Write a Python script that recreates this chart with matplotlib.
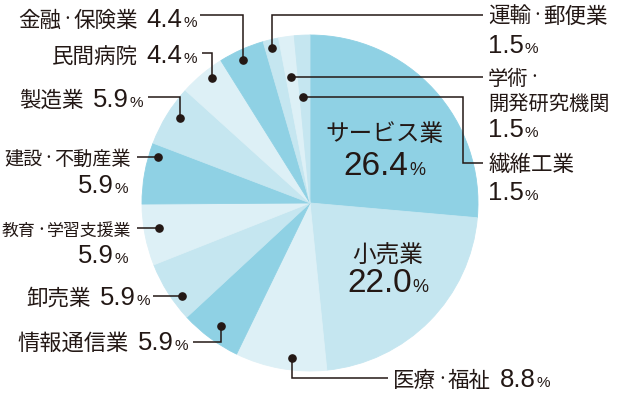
import matplotlib
matplotlib.use('Agg')
import matplotlib.pyplot as plt
import numpy as np

# ---- data ----
categories = ['サービス業', '小売業', '医療・福祉', '情報通信業', '卸売業',
              '教育・学習支援業', '建設・不動産業', '製造業', '民間病院',
              '金融・保険業', '運輸・郵便業', '学術・開発研究機関', '繊維工業']
shares = [26.4, 22.0, 8.8, 5.9, 5.9, 5.9, 5.9, 5.9, 4.4, 4.4, 1.5, 1.5, 1.5]

# ---- style ----
DARK, MED, LIGHT = '#8fd1e4', '#c5e6f0', '#ddf0f6'
colors = [DARK, MED, LIGHT, DARK, MED, LIGHT, DARK, MED, LIGHT, DARK, MED, LIGHT, MED]
TXT = '#231815'
JP = ['Noto Sans CJK JP', 'DejaVu Sans']
NUM = ['Liberation Sans', 'DejaVu Sans']

W, H = 617, 395
CX, CY, R = 310, 203, 168
DOT_SIZE = 8.5     # font size of the "・" separator

fig = plt.figure(figsize=(W / 100, H / 100), dpi=100)
ax = fig.add_axes([0, 0, 1, 1])
wedges, _ = ax.pie(shares, colors=colors, startangle=90, counterclock=False,
                   center=(CX, H - CY), radius=R,
                   wedgeprops=dict(linewidth=0.6))
for w, c in zip(wedges, colors):
    w.set_edgecolor(c)
ax.set_xlim(0, W)
ax.set_ylim(0, H)
ax.set_aspect('auto')
ax.axis('off')

renderer = fig.canvas.get_renderer()


def rich(x, baseline, parts, ha):
    """parts: list of (string, size, family, gap_before_px, raise_px)"""
    y = H - baseline
    texts, widths = [], []
    for s, size, fam, gap, dy in parts:
        t = ax.text(0, y + dy, s, fontsize=size, family=fam, color=TXT,
                    ha='left', va='baseline')
        texts.append(t)
        widths.append(t.get_window_extent(renderer).width + gap)
    total = sum(widths)
    if ha == 'left':
        x0 = x
    elif ha == 'right':
        x0 = x - total
    else:
        x0 = x - total / 2
    for (s, size, fam, gap, dy), t, w in zip(parts, texts, widths):
        x0 += gap
        t.set_x(x0)
        x0 += w - gap


def name_parts(nm, size):
    segs = nm.split('・')
    parts = []
    raise_px = 0.38 * (size - DOT_SIZE) * 100 / 72 + 1.5
    for i, sgm in enumerate(segs):
        if i > 0:
            parts.append(('・', DOT_SIZE, JP, 0, raise_px))
        if sgm:
            parts.append((sgm, size, JP, 0, 0))
    return parts


# label layout: name lines, pct inline?, x anchor, ha, baselines, dot (t, r), leader path, inner?, jp size
layout = {
    'サービス業': (['サービス業'], False, 384, 'center', [141, 175], None, None, True, 17),
    '小売業': (['小売業'], False, 388, 'center', [263, 292], None, None, True, 17),
    '医療・福祉': (['医療・福祉'], True, 393, 'left', [387], (0.39, 156), [('v', 378), ('h', 388)], False, 15.5),
    '情報通信業': (['情報通信業'], True, 188, 'right', [350], (0.47, 152), [('v', 342), ('h', 193)], False, 16),
    '卸売業': (['卸売業'], True, 150, 'right', [305], (0.32, 158), [('h', 153)], False, 15.5),
    '教育・学習支援業': (['教育・学習支援業'], False, 131, 'right', [236, 263], (0.58, 153), [('h', 137)], False, 12.2),
    '建設・不動産業': (['建設・不動産業'], False, 131, 'right', [165, 193], (0.81, 159), [('h', 137)], False, 13.8),
    '製造業': (['製造業'], True, 143, 'right', [107], (0.58, 155), [('v', 97), ('h', 148)], False, 15.5),
    '民間病院': (['民間病院'], True, 197, 'right', [63], (0.61, 159), [('v', 53), ('h', 202)], False, 15.5),
    '金融・保険業': (['金融・保険業'], True, 197, 'right', [27], (0.43, 158), [('v', 15), ('h', 200)], False, 15.5),
    '運輸・郵便業': (['運輸・郵便業'], False, 488, 'left', [23, 53], (0.45, 160), [('v', 15), ('h', 483)], False, 15.5),
    '学術・開発研究機関': (['学術・', '開発研究機関'], False, 488, 'left', [85, 110, 137], (0.41, 127), [('h', 483)], False, 14.6),
    '繊維工業': (['繊維工業'], False, 488, 'left', [171, 200], (0.29, 106), [('h', 463), ('v', 163), ('h', 483)], False, 15.5),
}

total = sum(shares)
cum = 0.0
for cat, v in zip(categories, shares):
    c0 = cum / total
    c1 = (cum + v) / total
    cum += v
    names, inline, x, ha, bls, dot, path, inner, jsz = layout[cat]
    nsz, psz = (24, 13) if inner else (18.5, 11)
    num = f'{v:.1f}'
    for i, nm in enumerate(names):
        parts = name_parts(nm, jsz)
        if inline and i == len(names) - 1:
            parts += [(num, nsz, NUM, 9, 0), ('%', psz, NUM, 1, 0)]
        rich(x, bls[i], parts, ha)
    if not inline:
        px_anchor = x - 3 if ha == 'right' else x
        rich(px_anchor, bls[-1], [(num, nsz, NUM, 0, 0), ('%', psz, NUM, 1, 0)], ha)
    if dot is not None:
        t, r = dot
        psi = 360 * (c0 + t * (c1 - c0))
        th = np.deg2rad(90 - psi)
        px = CX + r * np.cos(th)
        py = CY - r * np.sin(th)
        xs, ys = [px], [py]
        for kind, val in path:
            if kind == 'v':
                xs.append(xs[-1]); ys.append(val)
            else:
                xs.append(val); ys.append(ys[-1])
        ax.plot(xs, [H - yy for yy in ys], color=TXT, lw=1.1,
                solid_joinstyle='miter', solid_capstyle='butt', zorder=3)
        ax.plot([px], [H - py], 'o', color=TXT, ms=5.2, zorder=4)

fig.savefig('out.png', dpi=100)
